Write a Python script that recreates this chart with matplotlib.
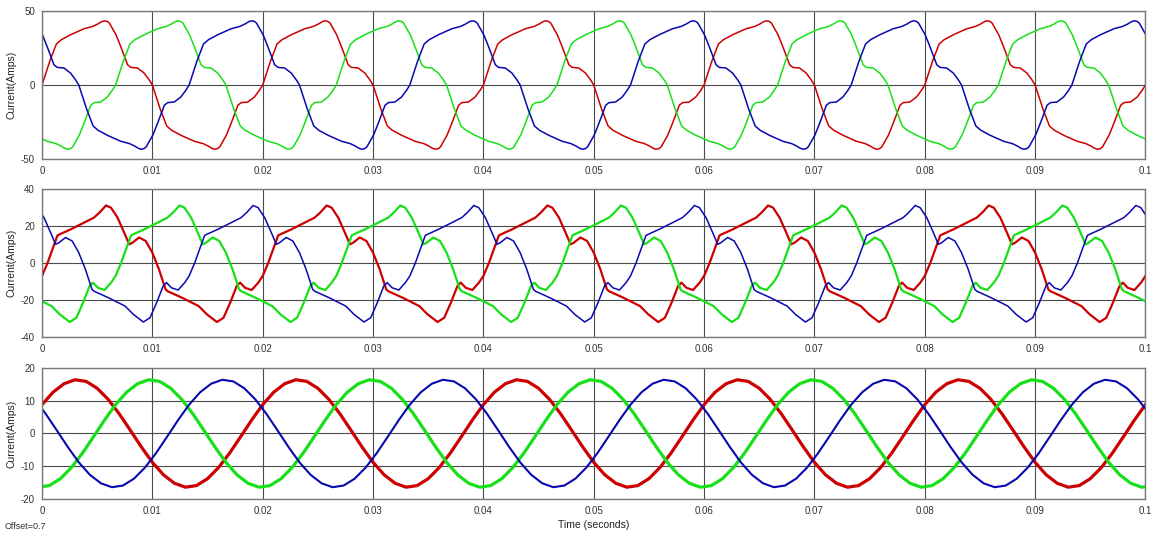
import numpy as np
import matplotlib
matplotlib.use('Agg')
import matplotlib.pyplot as plt

plt.rcParams['font.family'] = ['Liberation Sans', 'DejaVu Sans']
plt.rcParams['axes.unicode_minus'] = False

# one 50 Hz cycle of phase A current, time in ms
period_ms = 20.0

source_t = [0, 0.7, 1.3, 1.75, 2.6, 3.8, 4.6, 5.05, 5.4, 5.65, 5.9, 6.1, 6.7, 7.0,
            7.3, 7.75, 8.05, 8.35, 8.65, 9.25, 9.7,
            10, 10.7, 11.3, 11.75, 12.6, 13.8, 14.6, 15.05, 15.4, 15.65, 15.9, 16.1,
            16.7, 17.0, 17.3, 17.75, 18.05, 18.35, 18.65, 19.25, 19.7]
source_i = [0, 16, 27.7, 30.6, 34, 38, 39.6, 41.2, 42.8, 43.4, 43.0, 41.9, 34, 28.5,
            22.7, 13.7, 11.9, 11.7, 11.5, 8.1, 3.6,
            0, -16, -27.7, -30.6, -34, -38, -39.6, -41.2, -42.8, -43.4, -43.0, -41.9,
            -34, -28.5, -22.7, -13.7, -11.9, -11.7, -11.5, -8.1, -3.6]

inverter_t = [0, 0.5, 1.0, 1.4, 1.6, 2.6, 3.8, 4.7, 5.2, 5.8, 6.25, 6.85, 7.45, 7.9,
              8.2, 8.8, 9.4, 10.0, 10.6, 11.2, 11.4, 12.7, 14.2, 14.95, 15.85, 16.45,
              17.05, 17.65, 17.95, 18.4, 19.0, 19.6]
inverter_i = [-7, 0, 8.3, 14.9, 15.5, 18.2, 21.8, 24.5, 27.2, 31.1, 29.9, 24.5, 16.4, 10.1,
              11, 13.8, 11.9, 5.6, -3.4, -14.3, -15.3, -18.8, -23.3, -27.8, -31.9, -29.6,
              -21.5, -12.4, -10.6, -13.4, -14.6, -10.6]

load_t = [0, 1, 2, 3, 4, 5, 6, 7, 8, 9, 10, 11, 12, 13, 14, 15, 16, 17, 18, 19]
load_i = [8.8, 12.6, 15.2, 16.4, 15.9, 13.8, 10.4, 6.0, 1.0, -4.1,
          -8.8, -12.6, -15.2, -16.4, -15.9, -13.8, -10.4, -6.0, -1.0, 4.1]

# phase offsets (ms) for a, b, c
phase_shift = [0, period_ms / 3, -period_ms / 3]
phase_colors = ['#cc0000', '#18e018', '#0808b0']

x_ticks = [0, 0.01, 0.02, 0.03, 0.04, 0.05, 0.06, 0.07, 0.08, 0.09, 0.1]
x_labels = ['0', '0.01', '0.02', '0.03', '0.04', '0.05', '0.06', '0.07', '0.08', '0.09', '0.1']


def tile(t_ms, values, shift):
    # repeat the cycle over the whole window, shifted by the phase offset
    t_ms = np.asarray(t_ms, dtype=float)
    values = np.asarray(values, dtype=float)
    ts, vs = [], []
    for k in range(-1, 7):
        ts.append((t_ms + shift + k * period_ms) / 1000.0)
        vs.append(values)
    return np.concatenate(ts), np.concatenate(vs)


def draw_panel(ax, t_ms, values, ylim, yticks, widths):
    for shift, color, lw in zip(phase_shift, phase_colors, widths):
        t, v = tile(t_ms, values, shift)
        ax.plot(t, v, color=color, lw=lw, solid_joinstyle='round')
    ax.set_xlim(0, 0.1)
    ax.set_ylim(*ylim)
    ax.set_yticks(yticks)
    ax.set_xticks(x_ticks)
    ax.set_xticklabels(x_labels)
    ax.grid(True, color='#4a4a4a', lw=0.8)
    ax.set_axisbelow(True)
    ax.tick_params(length=0, labelsize=7, colors='#333333', pad=5)
    for s in ax.spines.values():
        s.set_color('#7a7a7a')
        s.set_linewidth(1.0)
    ax.set_ylabel('Current(Amps)', fontsize=7.5, color='#222222', labelpad=3)


fig = plt.figure(figsize=(11.54, 5.35), dpi=100)
ax1 = fig.add_axes([0.0364, 0.7028, 0.9562, 0.2766])
ax2 = fig.add_axes([0.0364, 0.3701, 0.9562, 0.2766])
ax3 = fig.add_axes([0.0364, 0.0673, 0.9562, 0.2449])

draw_panel(ax1, source_t, source_i, (-50, 50), [-50, 0, 50], [1.1, 1.1, 1.1])
draw_panel(ax2, inverter_t, inverter_i, (-40, 40), [-40, -20, 0, 20, 40], [1.6, 1.6, 1.1])
draw_panel(ax3, load_t, load_i, (-20, 20), [-20, -10, 0, 10, 20], [2.3, 2.3, 1.5])

ax3.set_xlabel('Time (seconds)', fontsize=7.5, color='#222222', labelpad=3)
fig.text(0.004, 0.012, 'Offset=0.7', fontsize=6.5, color='#333333')

fig.savefig('out.png', dpi=100)
